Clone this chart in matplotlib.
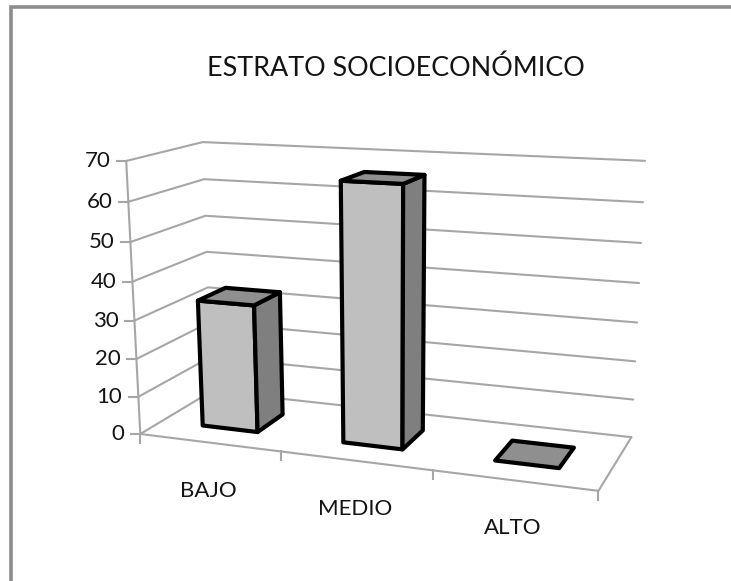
# -*- coding: utf-8 -*-

import numpy as np
import matplotlib
matplotlib.use('Agg')
import matplotlib.pyplot as plt
from matplotlib.patches import Polygon

title = 'ESTRATO SOCIOECONÓMICO'
categories = ['BAJO', 'MEDIO', 'ALTO']
values = [33.5, 66, 0]
value_ticks = [0, 10, 20, 30, 40, 50, 60, 70]

GRID = '#a6a6a6'
FRONT = '#bfbfbf'
SIDE = '#7f7f7f'
TOP = '#8f8f8f'
FRAME = '#8c8c8c'
FONT = 'Lato'

W, H = 731, 581

# camera calibration: box corners (across, depth, value) -> picture pixels
box = [(0, 0, 0), (0, 0, 70), (0, 1, 0), (0, 1, 70),
       (1, 1, 0), (1, 1, 70), (1, 0, 0)]
pix = [(140, 432), (126, 162), (212, 393), (203, 141),
       (631, 436), (645, 161), (599, 492)]


def fit_camera(box, pix):
    rows, rhs = [], []
    for (a, d, v), (px, py) in zip(box, pix):
        rows.append([a, d, v, 1, 0, 0, 0, 0, -px * a, -px * d, -px * v])
        rhs.append(px)
        rows.append([0, 0, 0, 0, a, d, v, 1, -py * a, -py * d, -py * v])
        rhs.append(py)
    p = np.linalg.lstsq(np.array(rows, float), np.array(rhs, float), rcond=None)[0]
    return np.append(p, 1).reshape(3, 4)


cam = fit_camera(box, pix)


def project(a, d, v):
    q = cam @ np.array([a, d, v, 1.0])
    return q[0] / q[2], q[1] / q[2]


fig = plt.figure(figsize=(W / 100, H / 100), dpi=100)
ax = fig.add_axes([0, 0, 1, 1])
ax.set_xlim(0, W)
ax.set_ylim(H, 0)
ax.axis('off')

# chart frame, cut by the screenshot on the right and at the bottom
ax.plot([11, 11, W], [H, 7, 7], color=FRAME, lw=2.6, solid_joinstyle='miter')

ax.text(396, 68, title, family=FONT, fontsize=19.4, color='#141414', ha='center', va='center')


def gridline(points, lw=1.5):
    xs, ys = zip(*[project(*p) for p in points])
    ax.plot(xs, ys, color=GRID, lw=lw, solid_capstyle='round', zorder=1)


# walls and floor
for v in value_ticks:
    gridline([(0, 0, v), (0, 1, v), (1, 1, v)])
    if v == 0:
        gridline([(1, 1, v), (1, 0, v), (0, 0, v)])
    x, y = project(0, 0, v)
    ax.plot([x - 9, x], [y, y], color=GRID, lw=1.5, zorder=1)
    ax.text(x - 16, y, str(v), family=FONT, fontsize=16, color='#141414', ha='right', va='center')
gridline([(0, 0, 0), (0, 0, 70)])

# category ticks and labels
for i in range(4):
    x, y = project(i / 3, 0, 0)
    ax.plot([x, x], [y, y + 9], color=GRID, lw=1.5, zorder=1)
for i, cat in enumerate(categories):
    x, y = project((i + 0.5) / 3, 0, 0)
    ax.text(x - 1, y + 48, cat, family=FONT, fontsize=16, color='#141414', ha='center', va='center')

# bars
bar_w = 0.133
d0, d1 = 0.29, 0.68
for i, val in enumerate(values):
    a0 = (i + 0.5) / 3 - bar_w / 2
    a1 = a0 + bar_w
    faces = []
    if val > 0:
        faces.append(([(a0, d0, 0), (a1, d0, 0), (a1, d0, val), (a0, d0, val)], FRONT))
        faces.append(([(a1, d0, 0), (a1, d1, 0), (a1, d1, val), (a1, d0, val)], SIDE))
    faces.append(([(a0, d0, val), (a1, d0, val), (a1, d1, val), (a0, d1, val)], TOP))
    for corners, colour in faces:
        ax.add_patch(Polygon([project(*c) for c in corners], closed=True, facecolor=colour,
                             edgecolor='black', lw=3, joinstyle='round', zorder=3))

fig.savefig('out.png', dpi=100)
